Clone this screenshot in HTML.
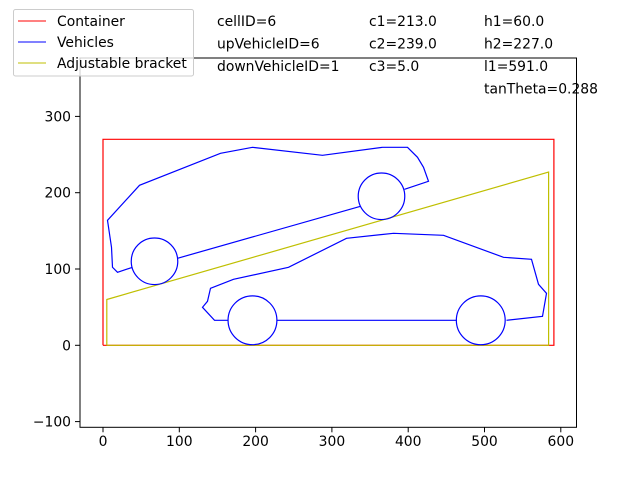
<!DOCTYPE html>
<html><head><meta charset="utf-8"><style>
body{margin:0;background:#fff;}
svg{display:block;font-family:"DejaVu Sans","Liberation Sans",sans-serif;}
</style></head><body>
<svg id="chart" width="640" height="480" viewBox="0 0 640 480" xmlns="http://www.w3.org/2000/svg">
<g id="plot"></g>
<rect x="80" y="58" width="496.5" height="369.3" fill="none" stroke="#000" stroke-width="1"/>
<g id="ticks"></g>
<g>
<rect x="13.5" y="9.5" width="180" height="66.5" rx="2" fill="#fff" fill-opacity="0.8" stroke="#ccc"/>
<line x1="18" y1="21" x2="46" y2="21" stroke="#ff0000" stroke-width="1"/>
<text x="57" y="26" font-size="13.9">Container</text>
<line x1="18" y1="42" x2="46" y2="42" stroke="#0000ff" stroke-width="1"/>
<text x="57" y="47" font-size="13.9">Vehicles</text>
<line x1="18" y1="63" x2="46" y2="63" stroke="#bfbf00" stroke-width="1"/>
<text x="57" y="68" font-size="13.9">Adjustable bracket</text>
</g>
<g font-size="13.9">
<text x="217" y="26">cellID=6</text>
<text x="217" y="48.5">upVehicleID=6</text>
<text x="217" y="71">downVehicleID=1</text>
<text x="369" y="26">c1=213.0</text>
<text x="369" y="48.5">c2=239.0</text>
<text x="369" y="71">c3=5.0</text>
<text x="484" y="26">h1=60.0</text>
<text x="484" y="48.5">h2=227.0</text>
<text x="484" y="71">l1=591.0</text>
<text x="484" y="93.5">tanTheta=0.288</text>
</g>
</svg>
<script>
const containerPts=[[0,0],[591,0],[591,270],[0,270],[0,0]];
const bracketPts=[[5,0],[5,60],[584,227],[584,0],[5,0]];
const lowerBody=[[528.8,32.8],[576,38],[581.2,68.2],[570.8,79.9],[561.6,112.7],[524.9,115.3],[446.2,144.2],[380.7,146.8],[319.1,140.2],[243.1,102.2],[171,86.5],[140.9,74.7],[137,57.7],[130.4,49.8],[146.1,32.8],[163.8,32.8]];
const lowerSill=[[228,32.8],[463.9,32.8]];
const upperBody=[[395.2,204.5],[426.6,214.9],[420.1,233.3],[412.2,246.4],[399.1,259.5],[366.3,259.5],[287.7,249],[195.9,259.5],[154,251.6],[47.8,209.7],[5.9,163.8],[11.1,128.4],[12.5,102.2],[19,95.7],[38.7,102.2]];
const upperSill=[[97.6,114],[337.5,182.2]];
const wheels=[[195.9,32.8,32],[495.1,32.8,32],[67.5,110.1,30.5],[365,195.3,30.5]];
const xTicks=[0,100,200,300,400,500,600];
const yTicks=[-100,0,100,200,300];
const K=0.763;
function xs(v){return 103+v*K;}
function ys(v){return 345.3-v*K;}
const NS='http://www.w3.org/2000/svg';
const plot=document.getElementById('plot');
function poly(pts,color,name){
  const p=document.createElementNS(NS,'polyline');
  p.setAttribute('points',pts.map(d=>xs(d[0]).toFixed(1)+','+ys(d[1]).toFixed(1)).join(' '));
  p.setAttribute('fill','none');p.setAttribute('stroke',color);p.setAttribute('stroke-width','1.2');
  
  
  plot.appendChild(p);
}
poly(containerPts,'#ff0000','container-outline');
poly(bracketPts,'#bfbf00','adjustable-bracket');
poly(lowerBody,'#0000ff','lower-vehicle-body');
poly(lowerSill,'#0000ff','lower-vehicle-sill');
poly(upperBody,'#0000ff','upper-vehicle-body');
poly(upperSill,'#0000ff','upper-vehicle-sill');
wheels.forEach(w=>{
  const c=document.createElementNS(NS,'circle');
  c.setAttribute('cx',xs(w[0]));c.setAttribute('cy',ys(w[1]));c.setAttribute('r',w[2]*K);
  c.setAttribute('fill','none');c.setAttribute('stroke','#0000ff');c.setAttribute('stroke-width','1.2');
  
  
  plot.appendChild(c);
});
const tg=document.getElementById('ticks');
xTicks.forEach(v=>{
  const l=document.createElementNS(NS,'line');
  l.setAttribute('x1',xs(v));l.setAttribute('x2',xs(v));l.setAttribute('y1',427.3);l.setAttribute('y2',432.3);l.setAttribute('stroke','#000');
  
  
  tg.appendChild(l);
  const t=document.createElementNS(NS,'text');
  t.setAttribute('x',xs(v));t.setAttribute('y',446);t.setAttribute('text-anchor','middle');t.setAttribute('font-size','13.9');
  t.textContent=v;
  
  
  tg.appendChild(t);
});
yTicks.forEach(v=>{
  const l=document.createElementNS(NS,'line');
  l.setAttribute('x1',75);l.setAttribute('x2',80);l.setAttribute('y1',ys(v));l.setAttribute('y2',ys(v));l.setAttribute('stroke','#000');
  
  
  tg.appendChild(l);
  const t=document.createElementNS(NS,'text');
  t.setAttribute('x',71);t.setAttribute('y',ys(v)+5);t.setAttribute('text-anchor','end');t.setAttribute('font-size','13.9');
  t.textContent=v<0?'\u2212'+(-v):v;
  
  
  tg.appendChild(t);
});
</script>
</body></html>
